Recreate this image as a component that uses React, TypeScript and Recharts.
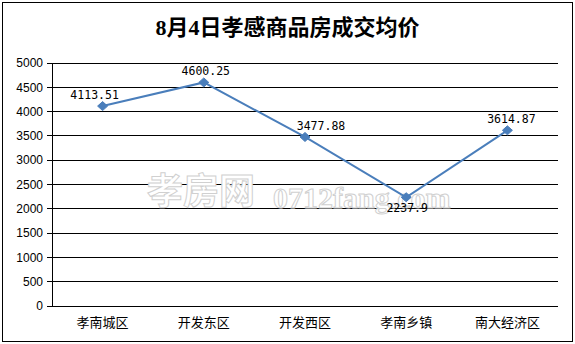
import React from "react";
import {
  LineChart,
  Line,
  XAxis,
  YAxis,
  CartesianGrid,
  LabelList,
  Customized,
} from "recharts";

const districts = ["孝南城区", "开发东区", "开发西区", "孝南乡镇", "南大经济区"];
const prices = [4113.51, 4600.25, 3477.88, 2237.9, 3614.87];
const priceLabels = ["4113.51", "4600.25", "3477.88", "2237.9", "3614.87"];
const yTicks = [0, 500, 1000, 1500, 2000, 2500, 3000, 3500, 4000, 4500, 5000];
const boundaryTicks = [0, 1, 2, 3, 4, 5];

const data = districts.map((name, i) => ({
  name,
  price: prices[i],
  label: priceLabels[i],
}));

const W = 575;
const H = 344;
const BLUE = "#4A7EBB";
// label nudges, Excel-style placement
const labelDx = [-8, 2, 16, 1, 4];
const labelBelow = [false, false, false, true, false];

const Diamond = (props: any) => {
  const { cx, cy } = props;
  if (cx == null || cy == null) return null;
  return (
    <polygon
      points={`${cx},${cy - 4.5} ${cx + 5},${cy} ${cx},${cy + 4.5} ${cx - 5},${cy}`}
      fill={BLUE}
      stroke={BLUE}
    />
  );
};

const PriceLabel = (props: any) => {
  const { x, y, value, index } = props;
  const below = labelBelow[index];
  return (
    <text
      x={x + labelDx[index]}
      y={below ? y + 15 : y - 7}
      textAnchor="middle"
      fontSize={11.5}
      fontFamily="DejaVu Sans Mono, monospace"
      fill="#000"
    >
      {value}
    </text>
  );
};

const Watermark = () => (
  <g>
    <text
      x={147}
      y={204}
      fontSize={36}
      fontWeight="bold"
      fontFamily="Noto Sans CJK SC, sans-serif"
      fill="#fff"
      stroke="#d0d0d0"
      strokeWidth={1}
    >
      孝房网
    </text>
    <text
      x={273}
      y={208}
      fontSize={30}
      fontWeight="bold"
      fontFamily="Liberation Serif, serif"
      fill="#fff"
      stroke="#d0d0d0"
      strokeWidth={1}
    >
      0712fang.com
    </text>
  </g>
);

export default function App() {
  return (
    <div
      style={{
        position: "absolute",
        left: 0,
        top: 0,
        width: W,
        height: H,
        background: "#fff",
      }}
    >
      <div
        style={{
          position: "absolute",
          left: 2,
          top: 2,
          width: 569,
          height: 338,
          border: "1px solid #000",
        }}
      />
      <div
        style={{
          position: "absolute",
          left: 0,
          top: 15,
          width: W,
          textAlign: "center",
          fontSize: 22,
          fontWeight: "bold",
          fontFamily: "Liberation Serif, Noto Sans CJK SC, serif",
          lineHeight: "26px",
        }}
      >
        8月4日孝感商品房成交均价
      </div>
      <div style={{ position: "absolute", left: 0, top: 0 }}>
        <LineChart
          width={W}
          height={H}
          data={data}
          margin={{ top: 63, right: 17, bottom: 0, left: 0 }}
        >
          <CartesianGrid
            vertical={false}
            stroke="#000"
            strokeWidth={1}
            shapeRendering="crispEdges"
          />
          <Customized component={Watermark} />
          <XAxis
            xAxisId="edges"
            type="number"
            domain={[0, 5]}
            ticks={boundaryTicks}
            tick={false}
            tickSize={5}
            height={0}
            axisLine={{ stroke: "#000", shapeRendering: "crispEdges" }}
            tickLine={{ stroke: "#000", shapeRendering: "crispEdges" }}
          />
          <XAxis
            dataKey="name"
            scale="band"
            height={38}
            axisLine={false}
            tickLine={false}
            tickMargin={6}
            tick={{
              fontSize: 13,
              fill: "#000",
              fontFamily: "Noto Sans CJK SC, sans-serif",
            }}
            interval={0}
          />
          <XAxis
            xAxisId="top"
            orientation="top"
            height={0}
            tick={false}
            tickLine={false}
            axisLine={{ stroke: BLUE, shapeRendering: "crispEdges" }}
          />
          <YAxis
            domain={[0, 5000]}
            ticks={yTicks}
            width={52}
            tickSize={5}
            tickMargin={4}
            interval={0}
            axisLine={{ stroke: "#000", shapeRendering: "crispEdges" }}
            tickLine={{ stroke: "#000", shapeRendering: "crispEdges" }}
            tick={{
              fontSize: 12,
              fill: "#000",
              fontFamily: "Liberation Sans, Arial, sans-serif",
            }}
          />
          <YAxis
            yAxisId="right"
            orientation="right"
            width={0}
            tick={false}
            tickLine={false}
            axisLine={{ stroke: BLUE, shapeRendering: "crispEdges" }}
          />
          <Line
            dataKey="price"
            stroke={BLUE}
            strokeWidth={2}
            dot={<Diamond />}
            activeDot={false}
            isAnimationActive={false}
          >
            <LabelList dataKey="label" content={<PriceLabel />} />
          </Line>
        </LineChart>
      </div>
    </div>
  );
}
